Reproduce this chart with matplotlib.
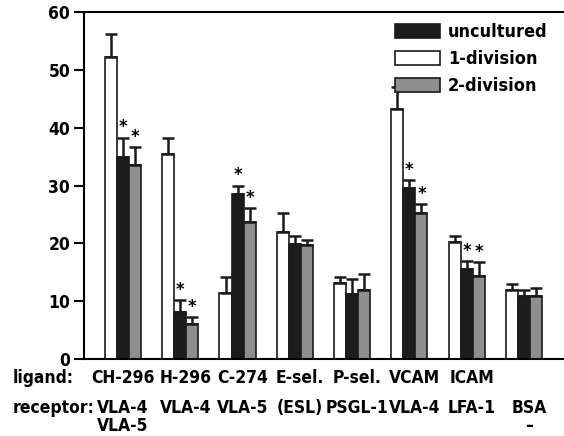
import matplotlib
matplotlib.use("Agg")
import matplotlib.pyplot as plt
import matplotlib.transforms as mtransforms
import numpy as np

plt.rcParams['font.family'] = ['DejaVu Sans']
plt.rcParams['font.stretch'] = 'condensed'
plt.rcParams['font.weight'] = 'bold'

ligands = ['CH-296', 'H-296', 'C-274', 'E-sel.', 'P-sel.', 'VCAM', 'ICAM', '']
receptors = ['VLA-4\nVLA-5', 'VLA-4', 'VLA-5', '(ESL)', 'PSGL-1', 'VLA-4', 'LFA-1', 'BSA\n\u2013']

one_div = [52.3, 35.4, 11.4, 22.0, 13.1, 43.3, 20.3, 12.0]
one_err = [3.9, 2.9, 2.7, 3.2, 1.0, 3.8, 1.0, 1.0]
uncultured = [34.9, 8.1, 28.5, 19.9, 11.2, 29.5, 15.5, 10.9]
unc_err = [3.4, 2.1, 1.5, 1.3, 2.6, 1.5, 1.4, 1.1]
two_div = [33.6, 6.0, 23.7, 19.7, 12.0, 25.2, 14.3, 10.8]
two_err = [3.1, 1.2, 2.4, 0.8, 2.7, 1.6, 2.4, 1.5]
unc_star = [0, 1, 2, 5, 6]
two_star = [0, 1, 2, 5, 6]

fig = plt.figure(figsize=(5.64, 4.36), dpi=100)
ax = fig.add_axes([0.149, 0.177, 0.851, 0.795])

x = np.arange(len(ligands))
w = 0.21
ekw = dict(elinewidth=1.8, capthick=1.8, ecolor='#1a1a1a')

series = [
    (one_div, one_err, 'white', '1-division', -w),
    (uncultured, unc_err, '#1c1c1c', 'uncultured', 0),
    (two_div, two_err, '#8e8e8e', '2-division', w),
]
handles = {}
for vals, err, col, lab, off in series:
    b = ax.bar(x + off, vals, w, color=col, edgecolor='#1a1a1a', linewidth=1.2,
               yerr=[np.zeros(len(err)), err], capsize=4.5, error_kw=ekw, label=lab)
    handles[lab] = b

for i in unc_star:
    ax.text(x[i], uncultured[i] + unc_err[i] + 0.2, '*', ha='center', va='bottom',
            fontsize=13, fontweight='bold')
for i in two_star:
    ax.text(x[i] + w, two_div[i] + two_err[i] + 0.2, '*', ha='center', va='bottom',
            fontsize=13, fontweight='bold')

ax.set_xlim(-0.68, 7.70)
ax.set_ylim(0, 60)
ax.set_yticks([0, 10, 20, 30, 40, 50, 60])
ax.tick_params(axis='y', labelsize=12.5, width=1.5, length=7, direction='out', pad=3)
ax.set_xticks([])
for s in ['left', 'bottom', 'top']:
    ax.spines[s].set_linewidth(1.5)
ax.spines['right'].set_visible(False)

# group labels sit a little right of the bar centres, as in the original
trans = mtransforms.blended_transform_factory(ax.transData, fig.transFigure)
for i in range(len(ligands)):
    dx = 0.0 if i == 0 else 0.09
    ax.text(x[i] + dx, 0.132, ligands[i], transform=trans, ha='center', va='center',
            fontsize=12.5, fontweight='bold', clip_on=False)
    ax.text(x[i] + dx, 0.084, receptors[i], transform=trans, ha='center', va='top',
            fontsize=12.5, fontweight='bold', clip_on=False, linespacing=0.95)
fig.text(0.022, 0.132, 'ligand:', ha='left', va='center', fontsize=12.5, fontweight='bold')
fig.text(0.022, 0.064, 'receptor:', ha='left', va='center', fontsize=12.5, fontweight='bold')

ax.legend([handles['uncultured'], handles['1-division'], handles['2-division']],
          ['uncultured', '1-division', '2-division'], loc='upper right',
          bbox_to_anchor=(1.0, 1.015), frameon=False, fontsize=13,
          handlelength=2.5, handleheight=0.75, handletextpad=0.45, labelspacing=0.5)

fig.savefig('out.png', dpi=100)
